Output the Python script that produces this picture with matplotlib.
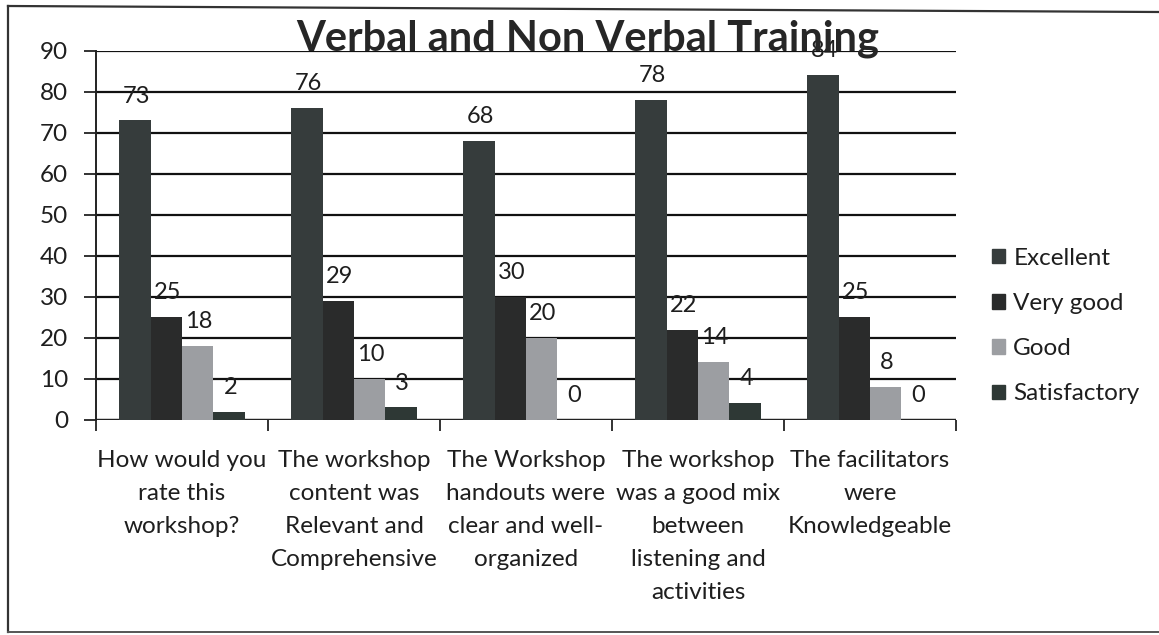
import matplotlib
matplotlib.use('Agg')
import matplotlib.pyplot as plt
import numpy as np
from matplotlib.lines import Line2D

plt.rcParams['font.family'] = ['Lato', 'DejaVu Sans']

categories = ['How would you\nrate this\nworkshop?',
              'The workshop\ncontent was\nRelevant and\nComprehensive',
              'The Workshop\nhandouts were\nclear and well-\norganized',
              'The workshop\nwas a good mix\nbetween\nlistening and\nactivities',
              'The facilitators\nwere\nKnowledgeable']
series = ['Excellent', 'Very good', 'Good', 'Satisfactory']
excellent = [73, 76, 68, 78, 84]
very_good = [25, 29, 30, 22, 25]
good = [18, 10, 20, 14, 8]
satisfactory = [2, 3, 0, 4, 0]
colors = ['#363c3c', '#2a2b2b', '#9c9ea2', '#2e3835']

values = [excellent, very_good, good, satisfactory]

fig = plt.figure(figsize=(11.59, 6.35), dpi=100)
ax = fig.add_axes([96 / 1159, 1 - 419.7 / 635, 860 / 1159, 369 / 635])

x = np.arange(len(categories))
w = 0.182
for i, (name, vals, c) in enumerate(zip(series, values, colors)):
    pos = x + (i - 1.5) * w
    ax.bar(pos, vals, width=w, color=c, label=name, zorder=3)
    for xp, v in zip(pos, vals):
        ax.annotate(str(v), (xp, v), xytext=(1, 10), textcoords='offset points',
                    ha='center', va='bottom', fontsize=17, color='#1e1e1e', zorder=4)

ax.set_xlim(-0.5, len(categories) - 0.5)
ax.set_ylim(0, 90)
ax.set_yticks(range(0, 91, 10))
ax.yaxis.grid(True, color='#111111', linewidth=1.6, zorder=1)
ax.set_axisbelow(True)
for s in ['top', 'right', 'bottom']:
    ax.spines[s].set_visible(False)
ax.spines['left'].set_linewidth(1.4)
ax.spines['left'].set_color('#222222')
ax.axhline(0, color='#222222', linewidth=1.6, zorder=2)
ax.tick_params(axis='y', length=9, width=1.3, color='#222222', labelsize=17.5,
               labelcolor='#1e1e1e', pad=11)

# category boundary ticks below the axis
ax.set_xticks(np.arange(-0.5, len(categories), 1.0))
ax.set_xticklabels([])
ax.tick_params(axis='x', length=8, width=1.3, color='#222222', direction='out')
for xi, lab in zip(x, categories):
    ax.text(xi, -7.4, lab, ha='center', va='top', fontsize=17.5, color='#1e1e1e',
            linespacing=1.7)

fig.text(588 / 1159, 1 - 51 / 635, 'Verbal and Non Verbal Training', ha='center',
         va='baseline', fontsize=30, fontweight='bold', color='#262626', zorder=10)

handles = [plt.Rectangle((0, 0), 1, 1, color=c) for c in colors]
fig.legend(handles, series, loc='center left', bbox_to_anchor=(970 / 1159, 1 - 326 / 635),
           frameon=False, fontsize=17.5, handlelength=0.55, handleheight=0.55,
           handletextpad=0.33, labelspacing=1.0, labelcolor='#1e1e1e')

# outer chart border
fig.add_artist(Line2D([8 / 1159, 8 / 1159], [1 - 632 / 635, 1 - 6 / 635], color='#333333',
                      linewidth=1.6, transform=fig.transFigure))
fig.add_artist(Line2D([8 / 1159, 1], [1 - 6 / 635, 1 - 12 / 635], color='#333333',
                      linewidth=1.6, transform=fig.transFigure))
fig.add_artist(Line2D([8 / 1159, 1], [1 - 632 / 635, 1 - 632 / 635], color='#555555',
                      linewidth=1.4, transform=fig.transFigure))

fig.savefig('out.png', dpi=100)
